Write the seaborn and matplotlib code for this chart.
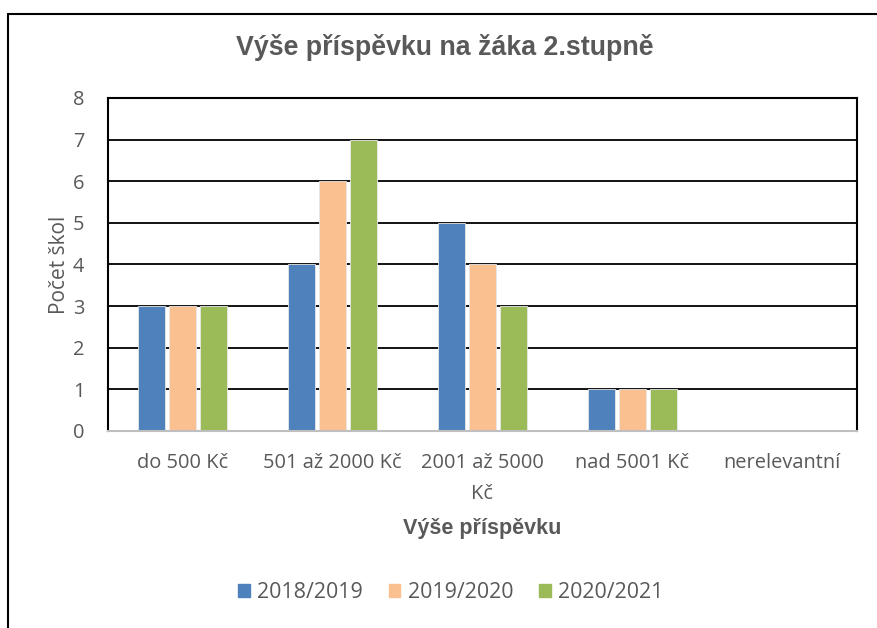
import matplotlib
matplotlib.use('Agg')
import matplotlib.pyplot as plt
import seaborn as sns
import pandas as pd
from matplotlib.lines import Line2D

categories = ['do 500 Kč', '501 až 2000 Kč', '2001 až 5000 Kč', 'nad 5001 Kč', 'nerelevantní']
tick_labels = ['do 500 Kč', '501 až 2000 Kč', '2001 až 5000\nKč', 'nad 5001 Kč', 'nerelevantní']
years = ['2018/2019', '2019/2020', '2020/2021']
v_2018 = [3, 4, 5, 1, 0]
v_2019 = [3, 6, 4, 1, 0]
v_2020 = [3, 7, 3, 1, 0]
y_ticks = [0, 1, 2, 3, 4, 5, 6, 7, 8]

colors = ['#4F81BD', '#FAC090', '#9BBB59']
grey = '#595959'

df = pd.DataFrame({
    'kat': categories * 3,
    'rok': [years[0]] * 5 + [years[1]] * 5 + [years[2]] * 5,
    'pocet': v_2018 + v_2019 + v_2020,
})

sns.set_style('white')
plt.rcParams['font.family'] = ['Open Sans', 'DejaVu Sans']

fig = plt.figure(figsize=(8.77, 6.28), dpi=100)
ax = fig.add_axes([0.1231, 0.3137, 0.8541, 0.5303])

sns.barplot(data=df, x='kat', y='pocet', hue='rok', order=categories,
            hue_order=years, palette=colors, saturation=1, width=0.62, gap=0.13,
            edgecolor='#e8e8e8', linewidth=0.6, ax=ax, legend=False)

ax.set_ylim(0, 8)
ax.set_xlim(-0.5, 4.5)
ax.set_yticks(y_ticks)
ax.set_xticks(range(len(categories)))
ax.set_xticklabels(tick_labels, linespacing=1.75)
ax.tick_params(axis='both', length=0, colors=grey, labelsize=14.4)
ax.tick_params(axis='x', pad=16)
ax.tick_params(axis='y', pad=17)
for lab in ax.get_xticklabels() + ax.get_yticklabels():
    lab.set_color(grey)

ax.set_axisbelow(True)
ax.yaxis.grid(True, color='black', lw=1.3)
for s in ['left', 'top', 'right']:
    ax.spines[s].set_color('black')
    ax.spines[s].set_linewidth(1.5)
ax.spines['bottom'].set_color('#bfbfbf')
ax.spines['bottom'].set_linewidth(1.5)

ax.set_xlabel('Výše příspěvku', fontsize=15.5, fontweight='bold', color=grey,
              labelpad=10, family='Liberation Sans')
ax.set_ylabel('Počet škol', fontsize=15, color=grey, labelpad=2)
fig.text(0.507, 0.925, 'Výše příspěvku na žáka 2.stupně', ha='center', va='center',
         fontsize=19.3, fontweight='bold', color=grey, family='Liberation Sans')

handles = [plt.Rectangle((0, 0), 1, 1, color=c) for c in colors]
fig.legend(handles, years, loc='center', bbox_to_anchor=(0.514, 0.057), ncol=3,
           frameon=False, fontsize=15.4, handlelength=0.55, handleheight=0.55,
           handletextpad=0.35, columnspacing=1.2, labelcolor=grey)

fig.add_artist(Line2D([8 / 877, 8 / 877], [0, 1 - 14 / 628], color='black', lw=1.5))
fig.add_artist(Line2D([8 / 877, 1], [1 - 14 / 628, 1 - 14 / 628], color='black', lw=1.5))

fig.savefig('out.png', dpi=100)
